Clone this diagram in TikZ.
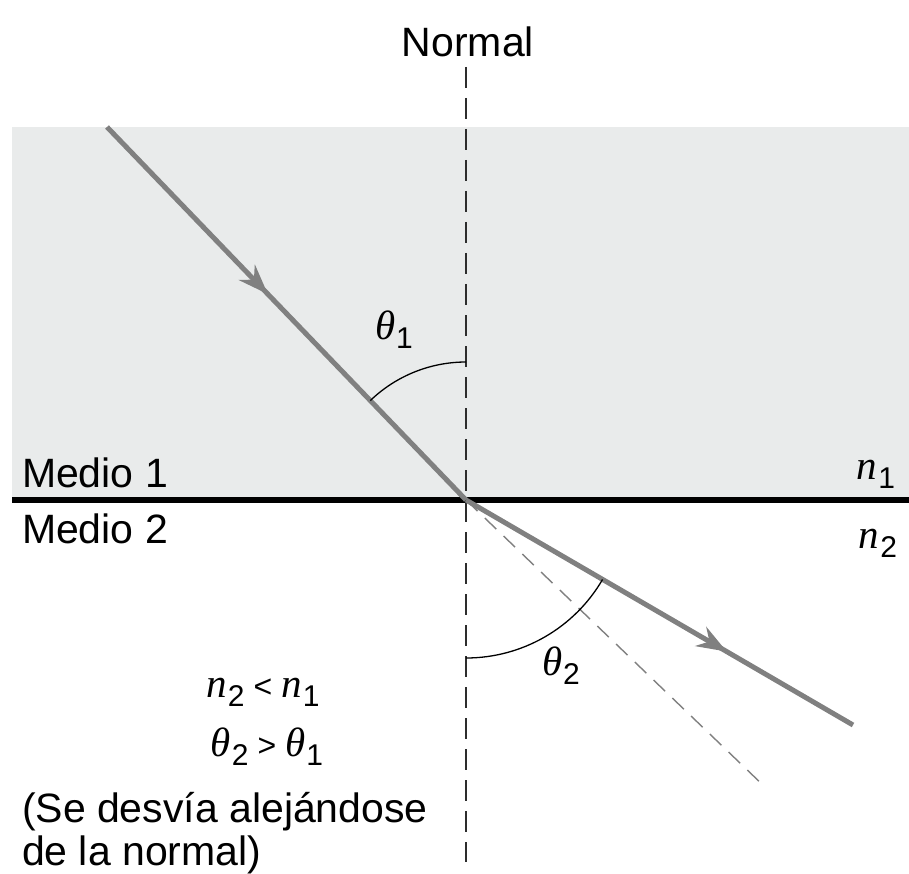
\documentclass[tikz,border=0pt]{standalone}
\usepackage{fontspec}
\setmainfont{Liberation Sans}
\newfontfamily\serifit{Liberation Serif}
\usetikzlibrary{decorations.markings,arrows.meta}
\definecolor{medium}{RGB}{233,235,235}
\definecolor{raycol}{RGB}{128,128,128}
\definecolor{normcol}{RGB}{45,45,45}
\newcommand{\mvar}[2]{{\serifit\itshape #1}\kern1pt\raisebox{-9pt}{\fontsize{30}{30}\selectfont #2}}
\newcommand{\rel}[1]{\kern9pt{\fontsize{32}{32}\selectfont #1}\kern9pt}
\begin{document}
\begin{tikzpicture}[x=1pt,y=-1pt,
  every node/.style={inner sep=0pt,outer sep=0pt,font=\fontsize{41}{43}\selectfont},
  ray/.style={draw=raycol,line width=5pt},
  normalline/.style={draw=normcol,line width=2.2pt,dash pattern=on 21pt off 10pt},
  extline/.style={draw=raycol,line width=1.4pt,dash pattern=on 16pt off 10pt},
  anglearc/.style={draw=black,line width=1.3pt}
]
\useasboundingbox (0,0) rectangle (909,874);
% medium 1
\fill[medium] (12,127) rectangle (909,500);
% coordinates
\coordinate (O) at (466,500);
\coordinate (A) at (107,127);
\coordinate (B) at (853,725);
\coordinate (D) at (766,788);
\coordinate (NT) at (466,67);
\coordinate (NB) at (466,862);
\coordinate (IL) at (12,500);
\coordinate (IR) at (909,500);
% normal
\draw[normalline] (NT) -- (NB);
% extension of incident ray
\draw[extline] (O) -- (D);
% interface
\draw[line width=6.5pt,black] (IL) -- (IR);
% rays
\draw[ray,postaction={decorate},decoration={markings,mark=at position 0.448 with {\arrow{Stealth[length=30pt,width=22pt,inset=10pt,fill=raycol]}}}] (A) -- (O);
\draw[ray,postaction={decorate},decoration={markings,mark=at position 0.674 with {\arrow{Stealth[length=30pt,width=22pt,inset=10pt,fill=raycol]}}}] (O) -- (B);
% angle arcs
\draw[anglearc] (O) ++(226.1:138) arc[start angle=226.1,end angle=270,radius=138];
\draw[anglearc] (O) ++(30.2:158) arc[start angle=30.2,end angle=90,radius=158];
% labels
\node (normal) at (468,42) {Normal};
\node (t1) at (394,330) {\mvar{θ}{1}};
\node (t2) at (561,666) {\mvar{θ}{2}};
\node[anchor=base west] (m1) at (22,487) {Medio 1};
\node[anchor=base west] (m2) at (22,543) {Medio 2};
\node (n1) at (876,474) {\mvar{n}{1}};
\node (n2) at (878,543) {\mvar{n}{2}};
\node (r1) at (263,692) {\mvar{n}{2}\rel{<}\mvar{n}{1}};
\node (r2) at (267,747) {\mvar{θ}{2}\rel{>}\mvar{θ}{1}};
\node[anchor=base west] (c1) at (22,822) {(Se desvía alejándose};
\node[anchor=base west] (c2) at (22,865) {de la normal)};
\end{tikzpicture}
\end{document}
